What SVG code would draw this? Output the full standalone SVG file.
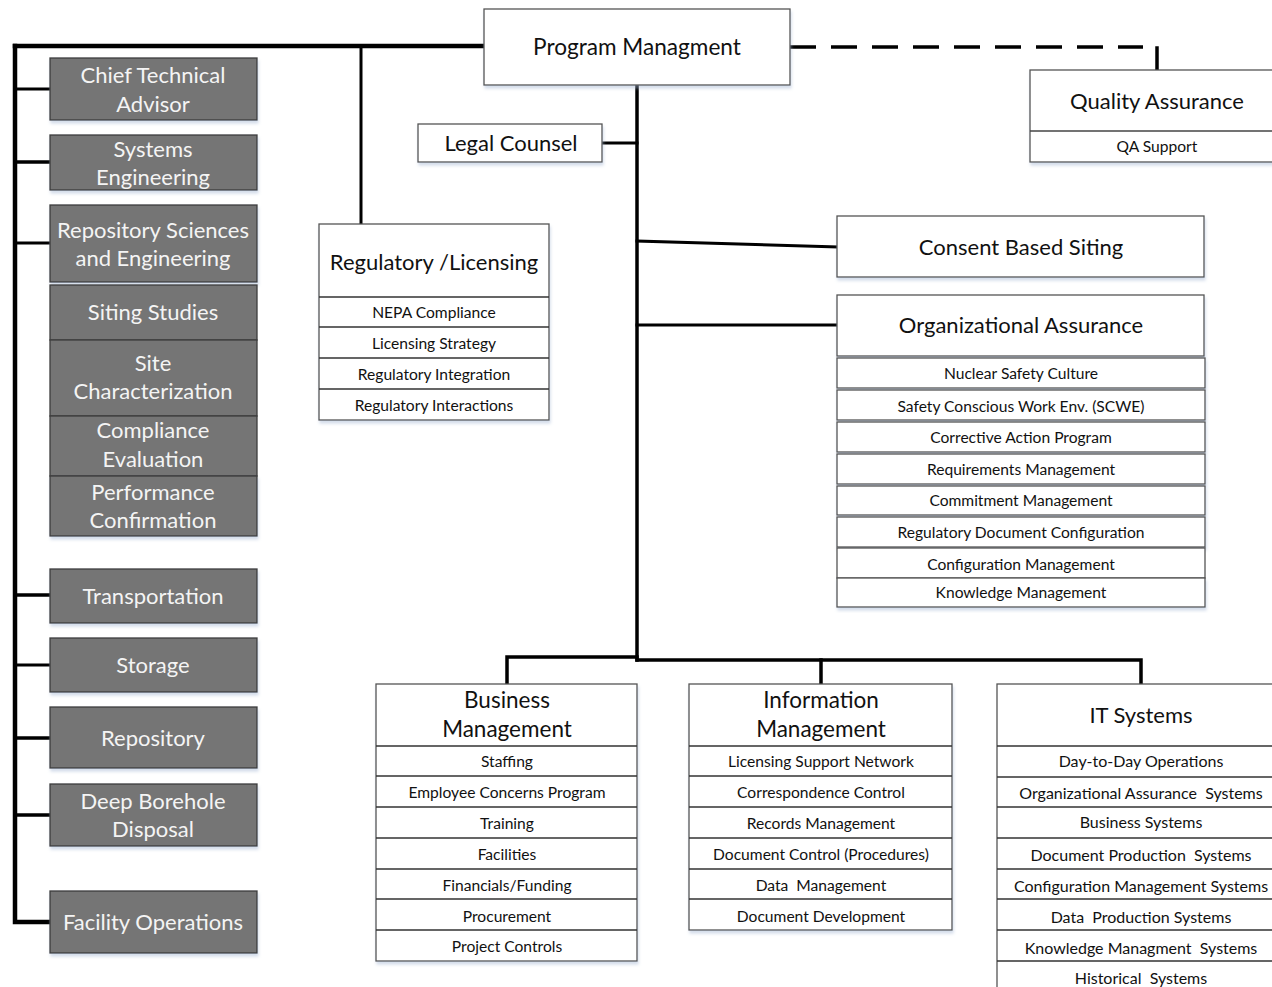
<svg xmlns="http://www.w3.org/2000/svg" width="1272" height="987" viewBox="0 0 1272 987">
<defs>
<filter id="sh" x="-5%" y="-5%" width="110%" height="125%">
<feDropShadow dx="1" dy="3" stdDeviation="1.5" flood-color="#9fb3d1" flood-opacity="0.45"/>
</filter>
<style>
text{font-family:Lato,"Noto Sans","Liberation Sans",sans-serif;text-anchor:middle;dominant-baseline:central}
.g rect{fill:#757575;stroke:#3d3d3d;stroke-width:1.3}
.g text{fill:#f4f4f4;font-size:22px}
.w{fill:#fff;stroke:#555;stroke-width:1.3}
.t{fill:#111;font-size:22px}
.s{fill:#111;font-size:15.6px}
.c{fill:none;stroke:#000;stroke-linecap:square}
</style>
</defs>
<rect width="1272" height="987" fill="#fff"/>

<g id="connectors">
<path class="c" d="M15,46 H484" stroke-width="4.5"/>
<path class="c" d="M15,46 V922 H50" stroke-width="4.5"/>
<path class="c" d="M15,89 H50" stroke-width="3"/>
<path class="c" d="M15,162 H50" stroke-width="3.5"/>
<path class="c" d="M15,243 H50" stroke-width="3"/>
<path class="c" d="M15,595 H50" stroke-width="3.5"/>
<path class="c" d="M15,665 H50" stroke-width="3"/>
<path class="c" d="M15,738 H50" stroke-width="3.5"/>
<path class="c" d="M15,815 H50" stroke-width="3.5"/>
<path class="c" d="M361,46 V224" stroke-width="3"/>
<path d="M790,47 H1143" fill="none" stroke="#000" stroke-width="3.5" stroke-dasharray="26 15"/>
<path class="c" d="M1157,48 V70" stroke-width="3.5" stroke-linecap="butt"/>
<path class="c" d="M637,85 V660" stroke-width="3.5"/>
<path class="c" d="M602,143 H637" stroke-width="3"/>
<path class="c" d="M637,241 L837,247" stroke-width="3" stroke-linecap="butt"/>
<path class="c" d="M637,325 H837" stroke-width="3" stroke-linecap="butt"/>
<path class="c" d="M507,684 V657 H637" stroke-width="3.5" stroke-linecap="butt"/>
<path class="c" d="M637,660 H1141 V684" stroke-width="3.5" stroke-linecap="butt"/>
<path class="c" d="M821,660 V684" stroke-width="3.5" stroke-linecap="butt"/>
</g>

<g id="chief-technical-advisor" class="g"><rect x="50" y="58" width="207" height="62" filter="url(#sh)"/><text x="153" y="74">Chief Technical</text><text x="153" y="103">Advisor</text></g>
<g id="systems-engineering" class="g"><rect x="50" y="135" width="207" height="55" filter="url(#sh)"/><text x="153" y="148">Systems</text><text x="153" y="176">Engineering</text></g>
<g id="repository-sciences" class="g"><rect x="50" y="205" width="207" height="77" filter="url(#sh)"/><text x="153" y="229">Repository Sciences</text><text x="153" y="257">and Engineering</text></g>
<g id="siting-studies" class="g"><rect x="50" y="285" width="207" height="55"/><text x="153" y="311">Siting Studies</text></g>
<g id="site-characterization" class="g"><rect x="50" y="340" width="207" height="76"/><text x="153" y="362">Site</text><text x="153" y="390">Characterization</text></g>
<g id="compliance-evaluation" class="g"><rect x="50" y="416" width="207" height="60"/><text x="153" y="429">Compliance</text><text x="153" y="458">Evaluation</text></g>
<g id="performance-confirmation" class="g"><rect x="50" y="476" width="207" height="60" filter="url(#sh)"/><text x="153" y="491">Performance</text><text x="153" y="519">Confirmation</text></g>
<g id="transportation" class="g"><rect x="50" y="569" width="207" height="54" filter="url(#sh)"/><text x="153" y="595">Transportation</text></g>
<g id="storage" class="g"><rect x="50" y="638" width="207" height="54" filter="url(#sh)"/><text x="153" y="664">Storage</text></g>
<g id="repository" class="g"><rect x="50" y="707" width="207" height="61" filter="url(#sh)"/><text x="153" y="737">Repository</text></g>
<g id="deep-borehole-disposal" class="g"><rect x="50" y="784" width="207" height="62" filter="url(#sh)"/><text x="153" y="800">Deep Borehole</text><text x="153" y="828">Disposal</text></g>
<g id="facility-operations" class="g"><rect x="50" y="891" width="207" height="62" filter="url(#sh)"/><text x="153" y="921">Facility Operations</text></g>

<g id="program-management"><rect class="w" x="484" y="9" width="306" height="76" filter="url(#sh)"/><text class="t" x="637" y="46" style="font-size:22.6px">Program Managment</text></g>

<g id="quality-assurance">
<rect class="w" x="1030" y="70" width="256" height="92" filter="url(#sh)"/>
<path d="M1030,131 H1286" stroke="#444" stroke-width="1.3"/>
<text class="t" x="1157" y="100">Quality Assurance</text>
<text class="s" x="1157" y="146">QA Support</text>
</g>

<g id="legal-counsel"><rect class="w" x="418" y="124" width="184" height="38" filter="url(#sh)"/><text class="t" x="511" y="142">Legal Counsel</text></g>

<g id="regulatory-licensing">
<rect class="w" x="319" y="224" width="230" height="196" filter="url(#sh)"/>
<path d="M319,297 H549 M319,327 H549 M319,358 H549 M319,389 H549" stroke="#333" stroke-width="1.3"/>
<text class="t" x="434" y="261">Regulatory /Licensing</text>
<text class="s" x="434" y="312">NEPA Compliance</text>
<text class="s" x="434" y="343">Licensing Strategy</text>
<text class="s" x="434" y="374">Regulatory Integration</text>
<text class="s" x="434" y="405">Regulatory Interactions</text>
</g>

<g id="consent-based-siting"><rect class="w" x="837" y="216" width="367" height="61" filter="url(#sh)"/><text class="t" x="1021" y="246">Consent Based Siting</text></g>

<g id="organizational-assurance">
<rect class="w" x="837" y="295" width="367" height="61" filter="url(#sh)"/>
<text class="t" x="1021" y="324">Organizational Assurance</text>
<rect class="w" x="837" y="358" width="368" height="30" filter="url(#sh)"/><text class="s" x="1021" y="373">Nuclear Safety Culture</text>
<rect class="w" x="837" y="390" width="368" height="30" filter="url(#sh)"/><text class="s" x="1021" y="406">Safety Conscious Work Env. (SCWE)</text>
<rect class="w" x="837" y="422" width="368" height="30" filter="url(#sh)"/><text class="s" x="1021" y="437">Corrective Action Program</text>
<rect class="w" x="837" y="454" width="368" height="30" filter="url(#sh)"/><text class="s" x="1021" y="469">Requirements Management</text>
<rect class="w" x="837" y="486" width="368" height="29" filter="url(#sh)"/><text class="s" x="1021" y="500">Commitment Management</text>
<rect class="w" x="837" y="517" width="368" height="30" filter="url(#sh)"/><text class="s" x="1021" y="532">Regulatory Document Configuration</text>
<rect class="w" x="837" y="548" width="368" height="30"/><text class="s" x="1021" y="564">Configuration Management</text>
<rect class="w" x="837" y="578" width="368" height="29" filter="url(#sh)"/><text class="s" x="1021" y="592">Knowledge Management</text>
</g>

<g id="business-management">
<rect class="w" x="376" y="684" width="261" height="277" filter="url(#sh)"/>
<path d="M376,746 H637 M376,776 H637 M376,807 H637 M376,838 H637 M376,869 H637 M376,899 H637 M376,930 H637" stroke="#333" stroke-width="1.3"/>
<text class="t" x="507" y="699" style="font-size:22.5px">Business</text>
<text class="t" x="507" y="728" style="font-size:22.5px">Management</text>
<text class="s" x="507" y="761">Staffing</text>
<text class="s" x="507" y="792">Employee Concerns Program</text>
<text class="s" x="507" y="823">Training</text>
<text class="s" x="507" y="854">Facilities</text>
<text class="s" x="507" y="885">Financials/Funding</text>
<text class="s" x="507" y="916">Procurement</text>
<text class="s" x="507" y="946">Project Controls</text>
</g>

<g id="information-management">
<rect class="w" x="689" y="684" width="263" height="246" filter="url(#sh)"/>
<path d="M689,746 H952 M689,776 H952 M689,807 H952 M689,838 H952 M689,869 H952 M689,899 H952" stroke="#333" stroke-width="1.3"/>
<text class="t" x="821" y="699" style="font-size:22.5px">Information</text>
<text class="t" x="821" y="728" style="font-size:22.5px">Management</text>
<text class="s" x="821" y="761">Licensing Support Network</text>
<text class="s" x="821" y="792">Correspondence Control</text>
<text class="s" x="821" y="823">Records Management</text>
<text class="s" x="821" y="854">Document Control (Procedures)</text>
<text class="s" x="821" y="885" xml:space="preserve">Data  Management</text>
<text class="s" x="821" y="916">Document Development</text>
</g>

<g id="it-systems">
<rect class="w" x="997" y="684" width="290" height="320"/>
<path d="M997,746 H1287 M997,777 H1287 M997,807 H1287 M997,838 H1287 M997,869 H1287 M997,899 H1287 M997,930 H1287 M997,961 H1287" stroke="#333" stroke-width="1.3"/>
<text class="t" x="1141" y="714">IT Systems</text>
<g style="font-size:16px">
<text class="s" x="1141" y="760" style="font-size:16px">Day-to-Day Operations</text>
<text class="s" x="1141" y="792" style="font-size:16px" xml:space="preserve">Organizational Assurance  Systems</text>
<text class="s" x="1141" y="821" style="font-size:16px">Business Systems</text>
<text class="s" x="1141" y="854" style="font-size:16px" xml:space="preserve">Document Production  Systems</text>
<text class="s" x="1141" y="885" style="font-size:16px">Configuration Management Systems</text>
<text class="s" x="1141" y="916" style="font-size:16px" xml:space="preserve">Data  Production Systems</text>
<text class="s" x="1141" y="947" style="font-size:16px" xml:space="preserve">Knowledge Managment  Systems</text>
<text class="s" x="1141" y="977" style="font-size:16px" xml:space="preserve">Historical  Systems</text>
</g>
</g>
</svg>
